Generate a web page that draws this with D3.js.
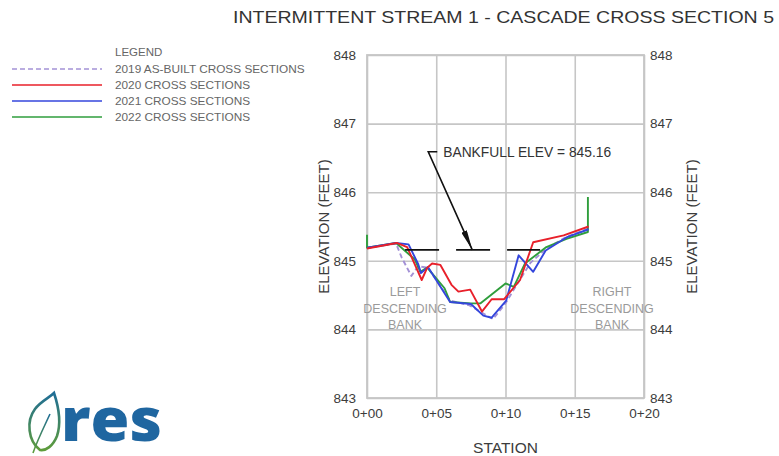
<!DOCTYPE html>
<html>
<head>
<meta charset="utf-8">
<script src="https://cdn.jsdelivr.net/npm/d3@7/dist/d3.min.js"></script>
<style>
  html, body { margin: 0; padding: 0; background: #fff; }
  svg { display: block; font-family: "Liberation Sans", Arial, sans-serif; }
</style>
</head>
<body>
<svg id="chart" width="779" height="456"></svg>
<script>
// Survey data: station (ft) and elevation (ft) for each cross-section year
const asBuilt2019 = [
  [0, 845.19], [2.1, 845.25], [2.5, 845.05], [3.2, 844.78], [3.7, 844.92],
  [4.4, 844.9], [6.0, 844.42], [7.4, 844.35], [8.0, 844.28], [9.1, 844.15],
  [10.0, 844.38], [10.6, 844.58], [11.8, 844.97], [12.9, 845.17],
  [14.4, 845.35], [16.0, 845.47]
];
const survey2020 = [
  [0, 845.18], [2.15, 845.26], [2.9, 845.2], [3.95, 844.72], [4.35, 844.9],
  [4.7, 844.96], [5.3, 844.94], [6.1, 844.65], [6.6, 844.55], [7.45, 844.58],
  [8.3, 844.26], [9.0, 844.44], [9.9, 844.44], [11.05, 844.72],
  [12.0, 845.27], [14.2, 845.37], [16.0, 845.5]
];
const survey2021 = [
  [0, 845.19], [2.1, 845.26], [3.0, 845.24], [3.7, 844.95], [3.9, 844.82],
  [4.4, 844.91], [6.0, 844.4], [7.5, 844.37], [8.4, 844.2], [9.0, 844.17],
  [10.05, 844.42], [10.95, 845.08], [12.0, 844.84], [12.9, 845.15],
  [14.4, 845.34], [16.0, 845.46]
];
const survey2022 = [
  [0, 845.38], [0, 845.19], [2.1, 845.26], [3.45, 845.02], [3.85, 844.84],
  [4.35, 844.9], [5.6, 844.6], [6.0, 844.4], [7.5, 844.38], [8.2, 844.38],
  [10.0, 844.67], [10.6, 844.62], [11.4, 844.96], [12.95, 845.2],
  [14.4, 845.32], [15.95, 845.42], [15.95, 845.93]
];

const legendLabels = [
  "2019 AS-BUILT CROSS SECTIONS",
  "2020 CROSS SECTIONS",
  "2021 CROSS SECTIONS",
  "2022 CROSS SECTIONS"
];

const stationTicks = [0, 5, 10, 15, 20];
const elevationTicks = [843, 844, 845, 846, 847, 848];
const bankfullElev = 845.16;
const bankfullExtent = [2.75, 12.5];
const bankfullArrowStation = 7.6;

const svg = d3.select("#chart");

// plot frame
const plotLeft = 367, plotTop = 55, plotRight = 644, plotBottom = 398;
const x = d3.scaleLinear().domain([0, 20]).range([plotLeft, plotRight]);
const y = d3.scaleLinear().domain([843, 848]).range([plotBottom, plotTop]);

const gridColor = "#c6c6c6";
const labelColor = "#3c3c3c";
const defs = svg.append("defs");

// grid lines
svg.append("g")
  .attr("transform", `translate(0,${plotBottom})`)
  .call(d3.axisBottom(x).tickValues(stationTicks).tickSize(-(plotBottom - plotTop)).tickFormat(""))
  .call(g => g.select(".domain").remove())
  .call(g => g.selectAll("line").attr("stroke", gridColor).attr("stroke-width", 1.6));
svg.append("g")
  .attr("transform", `translate(${plotLeft},0)`)
  .call(d3.axisLeft(y).tickValues(elevationTicks).tickSize(-(plotRight - plotLeft)).tickFormat(""))
  .call(g => g.select(".domain").remove())
  .call(g => g.selectAll("line").attr("stroke", gridColor).attr("stroke-width", 1.6));

svg.append("rect")
  .attr("x", plotLeft).attr("y", plotTop)
  .attr("width", plotRight - plotLeft).attr("height", plotBottom - plotTop)
  .attr("fill", "none").attr("stroke", gridColor).attr("stroke-width", 1.8);

// tick labels
const styleTicks = g => {
  g.select(".domain").remove();
  g.selectAll("line").remove();
  g.selectAll("text").attr("fill", labelColor).attr("font-size", 13.5)
    .attr("font-family", "Liberation Sans, Arial, sans-serif");
};
svg.append("g")
  .attr("transform", `translate(${plotLeft},0)`)
  .call(d3.axisLeft(y).tickValues(elevationTicks).tickSize(0).tickPadding(11).tickFormat(d3.format("d")))
  .call(styleTicks);
svg.append("g")
  .attr("transform", `translate(${plotRight},0)`)
  .call(d3.axisRight(y).tickValues(elevationTicks).tickSize(0).tickPadding(6).tickFormat(d3.format("d")))
  .call(styleTicks);
svg.append("g")
  .attr("transform", `translate(0,${plotBottom})`)
  .call(d3.axisBottom(x).tickValues(stationTicks).tickSize(0).tickPadding(10)
    .tickFormat(d => "0+" + String(d).padStart(2, "0")))
  .call(styleTicks);

// axis titles
svg.append("text")
  .attr("x", (plotLeft + plotRight) / 2).attr("y", 453)
  .attr("text-anchor", "middle").attr("font-size", 15.5).attr("fill", labelColor)
  .text("STATION");
[329, 697].forEach(cx => {
  svg.append("text")
    .attr("transform", `translate(${cx},${(plotTop + plotBottom) / 2}) rotate(-90)`)
    .attr("text-anchor", "middle").attr("font-size", 15).attr("fill", labelColor)
    .text("ELEVATION (FEET)");
});

// title
svg.append("text")
  .attr("x", 233).attr("y", 23)
  .attr("font-size", 16.5).attr("fill", "#333")
  .attr("textLength", 541).attr("lengthAdjust", "spacingAndGlyphs")
  .text("INTERMITTENT STREAM 1 - CASCADE CROSS SECTION 5");

// bank annotations
const bankText = (cx, lines) => {
  lines.forEach((t, i) => {
    svg.append("text")
      .attr("x", cx).attr("y", 296 + i * 16.5)
      .attr("text-anchor", "middle").attr("font-size", 12.5).attr("fill", "#9a9a9a")
      .text(t);
  });
};
bankText(405, ["LEFT", "DESCENDING", "BANK"]);
bankText(612, ["RIGHT", "DESCENDING", "BANK"]);

// survey lines
const line = d3.line().x(d => x(d[0])).y(d => y(d[1]));
const series = [
  { data: asBuilt2019, color: "#a391d6", dash: "5,3" },
  { data: survey2022, color: "#2f9e3c", dash: null },
  { data: survey2021, color: "#3446dc", dash: null },
  { data: survey2020, color: "#e8202a", dash: null }
];
series.forEach(s => {
  svg.append("path")
    .datum(s.data)
    .attr("d", line)
    .attr("fill", "none")
    .attr("stroke", s.color)
    .attr("stroke-width", 1.9)
    .attr("stroke-linejoin", "round")
    .attr("stroke-dasharray", s.dash);
});

// bankfull elevation
svg.append("line")
  .attr("x1", x(bankfullExtent[0])).attr("x2", x(bankfullExtent[1]))
  .attr("y1", y(bankfullElev)).attr("y2", y(bankfullElev))
  .attr("stroke", "#111").attr("stroke-width", 1.8)
  .attr("stroke-dasharray", "34,17");

// callout arrow
const tipX = x(bankfullArrowStation), tipY = y(bankfullElev);
const tailX = tipX - 44, tailY = tipY - 98;
defs.append("marker")
  .attr("id", "arrowhead").attr("viewBox", "0 0 20 6")
  .attr("refX", 20).attr("refY", 3)
  .attr("markerWidth", 20).attr("markerHeight", 6)
  .attr("markerUnits", "userSpaceOnUse")
  .attr("orient", "auto")
  .append("path").attr("d", "M0,0 L20,3 L0,6 Z").attr("fill", "#111");
svg.append("path")
  .attr("d", `M${tailX + 9},${tailY} L${tailX},${tailY} L${tipX},${tipY}`)
  .attr("fill", "none").attr("stroke", "#111").attr("stroke-width", 1.6)
  .attr("marker-end", "url(#arrowhead)");
svg.append("text")
  .attr("x", tailX + 15).attr("y", tailY + 5)
  .attr("font-size", 13.8).attr("fill", "#333")
  .text("BANKFULL ELEV = " + bankfullElev.toFixed(2));

// legend
const legend = svg.append("g");
legend.append("text").attr("x", 115).attr("y", 56)
  .attr("font-size", 11.5).attr("fill", "#666").text("LEGEND");
const legendOrder = [series[0], series[3], series[2], series[1]];
legendLabels.forEach((label, i) => {
  const s = legendOrder[i];
  const ly = 69 + i * 16;
  legend.append("line")
    .attr("x1", 12).attr("x2", 102).attr("y1", ly).attr("y2", ly)
    .attr("stroke", s.color).attr("stroke-width", 2)
    .attr("stroke-opacity", 0.75)
    .attr("stroke-dasharray", s.dash);
  legend.append("text")
    .attr("x", 115).attr("y", ly + 4)
    .attr("font-size", 11.8).attr("fill", "#666").text(label);
});

// logo
const logo = svg.append("g");
const grad = defs.append("linearGradient")
  .attr("id", "leafGrad").attr("x1", 0).attr("y1", 1).attr("x2", 0).attr("y2", 0);
grad.append("stop").attr("offset", "0%").attr("stop-color", "#5e9c3a");
grad.append("stop").attr("offset", "100%").attr("stop-color", "#1f6d96");
logo.append("path")
  .attr("d", "M40,450 C28,441 26,421 35,409 C41,401 49,398 54,393 C58,405 62,421 57,436 C53,446 46,451 40,450 Z")
  .attr("fill", "none").attr("stroke", "url(#leafGrad)").attr("stroke-width", 2.6);
logo.append("path")
  .attr("d", "M33,453 C37,441 43,429 50,414")
  .attr("fill", "none").attr("stroke", "url(#leafGrad)").attr("stroke-width", 1.6);
logo.append("text")
  .attr("x", 61).attr("y", 441)
  .attr("font-family", "'Open Sans', sans-serif").attr("font-weight", 800)
  .attr("font-size", 60).attr("fill", "#1f66a0")
  .attr("textLength", 101).attr("lengthAdjust", "spacingAndGlyphs")
  .text("res");
</script>
</body>
</html>
